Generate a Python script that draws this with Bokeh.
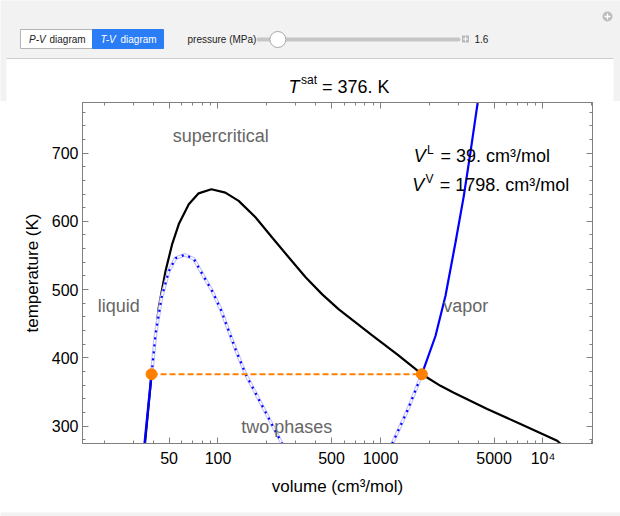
from bokeh.plotting import figure
from bokeh.models import Range1d, FixedTicker, LogAxis, LinearAxis, Label
from bokeh.embed import file_html
from bokeh.resources import INLINE
from bokeh.core.properties import value

# ---------------- data ----------------
pressure_mpa = 1.6
slider_min, slider_max = 0.0, 20.0
t_sat = 376
v_liq = 39
v_vap = 1798

# saturation (coexistence) curve, black
coex_v = [35.5, 39, 41.3, 43.2, 47.5, 52.3, 57.4, 66.1, 76, 91, 111, 134, 170, 216,
          273, 346, 438, 554, 702, 889, 1267, 1798, 2340, 2826, 4536, 7269, 12230, 13000]
coex_t = [273.5, 376, 435, 474, 527, 567, 596, 625, 641, 647, 642, 630, 606, 576,
          547, 518, 493, 471, 452, 433, 405, 376, 359, 349, 325, 303, 278.5, 273]

# isobar at the chosen pressure: stable liquid branch (solid blue)
liq_v = [35.3, 39]
liq_t = [273.6, 376]
# isobar: metastable / unstable loop (dotted blue), two visible pieces
loop1_v = [39, 41.3, 44.9, 49.8, 54.8, 62.5, 71, 80, 92, 104, 128, 148, 248]
loop1_t = [376, 435, 488, 527, 546, 551, 545, 523, 498, 471, 413, 376, 274]
loop2_v = [1180, 1460, 1798]
loop2_t = [274, 322, 376]
# isobar: stable vapor branch (solid blue)
vap_v = [1798, 2180, 2512, 2894, 3255, 3578, 3975]
vap_t = [376, 432, 491, 569, 637, 701, 776]

x_major = [50, 100, 500, 1000, 5000, 10000]
x_labels = ["50", "100", "500", "1000", "5000", "10\u2074"]
x_minor = [20, 30, 40, 60, 70, 80, 90, 200, 300, 400, 600, 700, 800, 900,
           2000, 3000, 4000, 6000, 7000, 8000, 9000, 20000]
y_major = [300, 400, 500, 600, 700]
y_minor = list(range(280, 780, 20))

FONT = "Liberation Sans"
GRAY_AX = "#808080"
PANEL = "#f2f2f2"
W = 620

# ---------------- header: control panel + title (page pixel coordinates) ----------------
HH = 101
h = figure(width=W, height=HH, x_range=Range1d(0, W), y_range=Range1d(HH, 0),
           output_backend="svg", toolbar_location=None, min_border=0,
           x_axis_location=None, y_axis_location=None, title=None)
h.grid.visible = False
h.background_fill_color = PANEL
h.border_fill_color = PANEL
h.outline_line_color = None

def htext(x, y, s, size="10px", color="#222222", style="normal"):
    h.text(x=[x], y=[y], text=[s], text_font=value(FONT), text_font_size=size,
           text_font_style=style, text_baseline="middle", text_align="left", text_color=color)

h.quad(left=[20], right=[92], top=[29], bottom=[48], fill_color="white", line_color="#b4b4b4")
h.quad(left=[92], right=[163], top=[29], bottom=[48], fill_color="#2b7df5", line_color="#2b7df5")
htext(28.5, 38.5, "P-V", style="italic")
htext(49, 38.5, "diagram")
htext(100, 38.5, "T-V", color="white", style="italic")
htext(120, 38.5, "diagram", color="white")
htext(187, 38.5, "pressure (MPa)")
track_x0, track_x1 = 262, 454
h.line([258, 458], [39, 39], line_width=4, line_color="#c6c6c6", line_cap="round")
thumb_x = track_x0 + (pressure_mpa - slider_min) / (slider_max - slider_min) * (track_x1 - track_x0)
h.scatter([thumb_x], [39], size=16, fill_color="white", line_color="#a8a8a8", line_width=1)
h.rect(x=[465], y=[38.5], width=7, height=7, fill_color="#b9b9b9", line_color=None)
h.segment(x0=[462.5, 465], y0=[38.5, 36], x1=[467.5, 465], y1=[38.5, 41], line_color="white", line_width=1)
htext(474, 38.5, f"{pressure_mpa}")
h.scatter([607], [16], size=10, fill_color="#bdbdbd", line_color=None)
h.segment(x0=[604, 607], y0=[16, 13], x1=[610, 607], y1=[16, 19], line_color="white", line_width=1.3)
# white plot panel
h.quad(left=[6], right=[613], top=[58], bottom=[HH + 1], fill_color="white", line_color=None)
h.line([6, 613], [58, 58], line_color="#cccccc", line_width=1)
# title  T^sat = 376. K
htext(288, 86.3, "T", size="18px", color="black", style="italic")
htext(300.5, 79.8, "sat", size="12px", color="black")
htext(321.5, 86.3, f"= {t_sat}. K", size="18px", color="black")

# ---------------- main T-V diagram ----------------
p = figure(width=W, height=407, x_axis_type="log",
           x_range=Range1d(14.66, 20170), y_range=Range1d(274.5, 774.1),
           output_backend="svg", toolbar_location=None, title=None,
           min_border_left=82, min_border_right=28, min_border_top=1, min_border_bottom=65)
p.grid.visible = False
p.background_fill_color = "white"
p.border_fill_color = "white"
p.outline_line_color = GRAY_AX

def style_axis(ax, ticker, tick_len, minor_len):
    ax.ticker = ticker
    ax.axis_line_color = GRAY_AX
    ax.major_tick_line_color = GRAY_AX
    ax.minor_tick_line_color = GRAY_AX
    ax.major_tick_in = tick_len
    ax.major_tick_out = 0
    ax.minor_tick_in = minor_len
    ax.minor_tick_out = 0
    ax.major_label_text_font = FONT
    ax.major_label_text_color = "black"
    ax.major_label_text_font_size = "16px"

style_axis(p.xaxis[0], FixedTicker(ticks=x_major, minor_ticks=x_minor), 6, 3)
style_axis(p.yaxis[0], FixedTicker(ticks=y_major, minor_ticks=y_minor), 6, 3)
p.xaxis[0].major_label_overrides = {t: s for t, s in zip(x_major, x_labels)}
p.xaxis[0].major_label_standoff = 6
p.yaxis[0].major_label_standoff = 4
for ax, lab in ((p.xaxis[0], "volume (cm\u00b3/mol)"), (p.yaxis[0], "temperature (K)")):
    ax.axis_label = lab
    ax.axis_label_text_font = FONT
    ax.axis_label_text_font_size = "17px"
    ax.axis_label_text_font_style = "normal"
    ax.axis_label_text_color = "black"
p.xaxis[0].axis_label_standoff = 7
p.yaxis[0].axis_label_standoff = 7

# mirrored tick marks on top and right (no labels: only "minor" style ticks)
for ticks, ln in ((x_major, 6), (x_minor, 3)):
    ax = LogAxis()
    style_axis(ax, FixedTicker(ticks=[], minor_ticks=ticks), 0, ln)
    p.add_layout(ax, "above")
for ticks, ln in ((y_major, 6), (y_minor, 3)):
    ax = LinearAxis()
    style_axis(ax, FixedTicker(ticks=[], minor_ticks=ticks), 0, ln)
    p.add_layout(ax, "right")

# curves
p.line(coex_v, coex_t, line_color="black", line_width=2.2)
for lv, lt in ((loop1_v, loop1_t), (loop2_v, loop2_t)):
    p.line(lv, lt, line_color="#c4c4ff", line_width=3.6)
    p.line(lv, lt, line_color="white", line_width=1.3)
    p.line(lv, lt, line_color="#0000ff", line_width=2.2, line_dash="2 5")
p.line(liq_v, liq_t, line_color="#0000ff", line_width=2.4)
p.line(vap_v, vap_t, line_color="#0000ff", line_width=2.2)
p.line([v_liq, v_vap], [t_sat, t_sat], line_color="#ff8000", line_width=2, line_dash="6 3")
p.scatter([v_liq, v_vap], [t_sat, t_sat], size=11, fill_color="#ff8000", line_color="#ff8000")

# helpers to place annotations at page-pixel positions
def vx(px):
    return 10 ** (2 + (px - 217.5) / 162.5)

def ty(py):
    return 700 - (py - 152.3) / 0.6825

DY = -6  # rendering offset correction for Label baselines

def lab(px, py, text, size="18px", color="black", style="normal"):
    p.add_layout(Label(x=vx(px), y=ty(py + DY), text=text, text_font=FONT, text_font_size=size,
                       text_color=color, text_font_style=style, text_align="left",
                       text_baseline="alphabetic"))

# V^L and V^V
lab(413.3, 161, "V", style="italic")
lab(426.5, 155, "L", size="12px")
lab(440, 161, f"= {v_liq}. cm\u00b3/mol")
lab(411.7, 190, "V", style="italic")
lab(425, 184, "V", size="12px")
lab(439.3, 190, f"= {v_vap}. cm\u00b3/mol")
# region names
GR = "#666666"
lab(172.3, 141, "supercritical", color=GR)
lab(97.3, 311, "liquid", color=GR)
lab(442.7, 311, "vapor", color=GR)
lab(240.7, 432, "two phases", color=GR)

# bottom strip of the control panel
f = figure(width=W, height=8, x_range=Range1d(0, 1), y_range=Range1d(0, 1),
           output_backend="svg", toolbar_location=None, min_border=0,
           x_axis_location=None, y_axis_location=None, title=None)
f.grid.visible = False
f.background_fill_color = PANEL
f.border_fill_color = PANEL
f.outline_line_color = None

open("out.html", "w").write(file_html([h, p, f], INLINE))
